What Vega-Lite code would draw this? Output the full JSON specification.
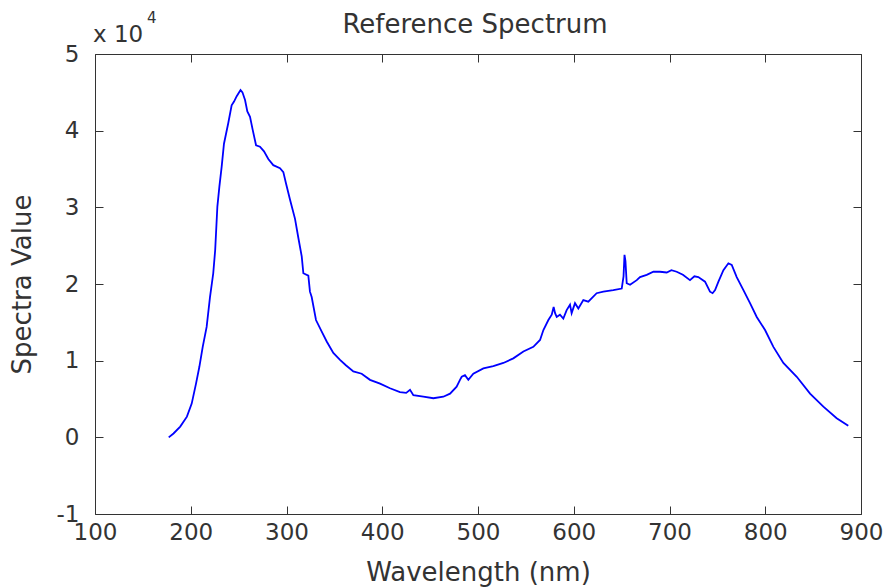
{
  "$schema": "https://vega.github.io/schema/vega-lite/v6.json",
  "width": 766,
  "height": 460,
  "autosize": {"type": "none"},
  "padding": {"left": 95, "top": 54, "right": 27, "bottom": 74},
  "background": "white",
  "config": {
    "view": {"stroke": null},
    "axis": {
      "grid": false,
      "domainColor": "#333333",
      "domainWidth": 1,
      "tickColor": "#333333",
      "tickSize": -8,
      "labelFont": "DejaVu Sans",
      "labelFontSize": 23,
      "labelColor": "#333333",
      "labelFlush": false,
      "labelOverlap": false,
      "titleFont": "DejaVu Sans",
      "titleFontSize": 26,
      "titleFontWeight": "normal",
      "titleColor": "#333333"
    }
  },
  "data": {"values": [
    {"wl": 177, "v": 0},
    {"wl": 182, "v": 500},
    {"wl": 189, "v": 1400},
    {"wl": 196, "v": 2700},
    {"wl": 201, "v": 4400},
    {"wl": 205.5, "v": 7000},
    {"wl": 209, "v": 9200},
    {"wl": 212.5, "v": 11800},
    {"wl": 216.6, "v": 14400},
    {"wl": 220.1, "v": 18300},
    {"wl": 223.5, "v": 21400},
    {"wl": 225.5, "v": 24400},
    {"wl": 227.8, "v": 30100},
    {"wl": 229.9, "v": 32700},
    {"wl": 232.3, "v": 35300},
    {"wl": 234.7, "v": 38300},
    {"wl": 239.2, "v": 41000},
    {"wl": 242.7, "v": 43300},
    {"wl": 245.2, "v": 43800},
    {"wl": 248, "v": 44500},
    {"wl": 252, "v": 45300},
    {"wl": 254, "v": 45000},
    {"wl": 256.7, "v": 44000},
    {"wl": 259.1, "v": 42500},
    {"wl": 261.9, "v": 41800},
    {"wl": 264.7, "v": 40100},
    {"wl": 268.2, "v": 38100},
    {"wl": 272.3, "v": 37900},
    {"wl": 276.5, "v": 37300},
    {"wl": 281, "v": 36300},
    {"wl": 286.2, "v": 35500},
    {"wl": 293.2, "v": 35100},
    {"wl": 296.7, "v": 34600},
    {"wl": 299.5, "v": 33100},
    {"wl": 303.7, "v": 31000},
    {"wl": 308.9, "v": 28500},
    {"wl": 312.4, "v": 26000},
    {"wl": 315.9, "v": 23600},
    {"wl": 317.6, "v": 21400},
    {"wl": 322.8, "v": 21100},
    {"wl": 324.5, "v": 19000},
    {"wl": 326.3, "v": 18300},
    {"wl": 330.8, "v": 15300},
    {"wl": 336.8, "v": 13800},
    {"wl": 342, "v": 12500},
    {"wl": 348.9, "v": 11000},
    {"wl": 355.9, "v": 10100},
    {"wl": 362, "v": 9400},
    {"wl": 369.8, "v": 8600},
    {"wl": 378.5, "v": 8300},
    {"wl": 387.2, "v": 7500},
    {"wl": 397.7, "v": 7000},
    {"wl": 408.1, "v": 6400},
    {"wl": 418.5, "v": 5900},
    {"wl": 425, "v": 5800},
    {"wl": 429, "v": 6200},
    {"wl": 432.5, "v": 5500},
    {"wl": 442.9, "v": 5300},
    {"wl": 453.4, "v": 5100},
    {"wl": 463.8, "v": 5300},
    {"wl": 470.8, "v": 5700},
    {"wl": 477.7, "v": 6600},
    {"wl": 481.2, "v": 7500},
    {"wl": 483, "v": 7900},
    {"wl": 486.4, "v": 8100},
    {"wl": 489.9, "v": 7500},
    {"wl": 495.1, "v": 8300},
    {"wl": 505.6, "v": 9000},
    {"wl": 516, "v": 9300},
    {"wl": 526.5, "v": 9700},
    {"wl": 536.9, "v": 10300},
    {"wl": 547.4, "v": 11200},
    {"wl": 557.8, "v": 11800},
    {"wl": 564.8, "v": 12700},
    {"wl": 568.3, "v": 14000},
    {"wl": 573.5, "v": 15300},
    {"wl": 577, "v": 16000},
    {"wl": 579, "v": 17000},
    {"wl": 580.5, "v": 16200},
    {"wl": 582.2, "v": 15700},
    {"wl": 585.6, "v": 16000},
    {"wl": 589.1, "v": 15500},
    {"wl": 592.6, "v": 16600},
    {"wl": 596.1, "v": 17300},
    {"wl": 597.8, "v": 16200},
    {"wl": 601.3, "v": 17500},
    {"wl": 604.8, "v": 16800},
    {"wl": 610, "v": 17900},
    {"wl": 615.2, "v": 17700},
    {"wl": 623.9, "v": 18800},
    {"wl": 630.9, "v": 19000},
    {"wl": 641.3, "v": 19200},
    {"wl": 650.1, "v": 19400},
    {"wl": 652, "v": 21000},
    {"wl": 653, "v": 23800},
    {"wl": 654, "v": 23000},
    {"wl": 655.3, "v": 20100},
    {"wl": 658.8, "v": 19900},
    {"wl": 665.8, "v": 20500},
    {"wl": 669.2, "v": 20900},
    {"wl": 676.2, "v": 21200},
    {"wl": 683.2, "v": 21600},
    {"wl": 690, "v": 21600},
    {"wl": 697.1, "v": 21500},
    {"wl": 702, "v": 21800},
    {"wl": 707.5, "v": 21600},
    {"wl": 714, "v": 21200},
    {"wl": 721.4, "v": 20500},
    {"wl": 726, "v": 21000},
    {"wl": 730.1, "v": 20900},
    {"wl": 737.1, "v": 20300},
    {"wl": 742.3, "v": 19000},
    {"wl": 745, "v": 18800},
    {"wl": 747.6, "v": 19200},
    {"wl": 751.1, "v": 20300},
    {"wl": 756.3, "v": 21800},
    {"wl": 761.5, "v": 22700},
    {"wl": 765, "v": 22500},
    {"wl": 770.2, "v": 20900},
    {"wl": 777.2, "v": 19200},
    {"wl": 784.1, "v": 17500},
    {"wl": 791.1, "v": 15700},
    {"wl": 799.8, "v": 14000},
    {"wl": 808.5, "v": 11800},
    {"wl": 818.9, "v": 9700},
    {"wl": 832.9, "v": 7900},
    {"wl": 846.8, "v": 5700},
    {"wl": 860.7, "v": 4000},
    {"wl": 874.6, "v": 2500},
    {"wl": 886.7, "v": 1500}
  ]},
  "layer": [
    {
      "mark": {"type": "line", "color": "#0000ff", "strokeWidth": 1.8, "clip": true},
      "encoding": {
        "x": {"field": "wl", "type": "quantitative", "scale": {"domain": [100, 900], "nice": false, "zero": false},
              "axis": {"orient": "bottom", "values": [100, 200, 300, 400, 500, 600, 700, 800, 900], "labelPadding": 15, "title": "Wavelength (nm)", "titlePadding": 15}},
        "y": {"field": "v", "type": "quantitative", "scale": {"domain": [-10000, 50000], "nice": false, "zero": false},
              "axis": {"orient": "left", "values": [-10000, 0, 10000, 20000, 30000, 40000, 50000], "labelExpr": "'' + (datum.value / 10000)", "labelPadding": 24, "title": "Spectra Value", "titlePadding": 21}}
      }
    },
    {
      "mark": {"type": "line", "opacity": 0},
      "encoding": {
        "x": {"field": "wl", "type": "quantitative",
              "axis": {"orient": "top", "values": [100, 200, 300, 400, 500, 600, 700, 800, 900], "labels": false, "title": null}},
        "y": {"field": "v", "type": "quantitative",
              "axis": {"orient": "right", "values": [-10000, 0, 10000, 20000, 30000, 40000, 50000], "labels": false, "title": null}}
      }
    },
    {
      "data": {"values": [{"label": "Reference Spectrum"}]},
      "mark": {"type": "text", "font": "DejaVu Sans", "fontSize": 26, "color": "#333333", "align": "center", "baseline": "alphabetic", "dx": -3, "dy": -21},
      "encoding": {
        "text": {"field": "label"},
        "x": {"datum": 500, "type": "quantitative", "axis": null},
        "y": {"datum": 50000, "type": "quantitative", "axis": null}
      }
    },
    {
      "data": {"values": [{"label": "x 10"}]},
      "mark": {"type": "text", "font": "DejaVu Sans", "fontSize": 23, "color": "#333333", "align": "left", "baseline": "alphabetic", "dx": -2, "dy": -12},
      "encoding": {
        "text": {"field": "label"},
        "x": {"datum": 100, "type": "quantitative", "axis": null},
        "y": {"datum": 50000, "type": "quantitative", "axis": null}
      }
    },
    {
      "data": {"values": [{"label": "4"}]},
      "mark": {"type": "text", "font": "DejaVu Sans", "fontSize": 15, "color": "#333333", "align": "left", "baseline": "alphabetic", "dx": 52, "dy": -31},
      "encoding": {
        "text": {"field": "label"},
        "x": {"datum": 100, "type": "quantitative", "axis": null},
        "y": {"datum": 50000, "type": "quantitative", "axis": null}
      }
    }
  ],
  "resolve": {"axis": {"x": "independent", "y": "independent"}}
}
